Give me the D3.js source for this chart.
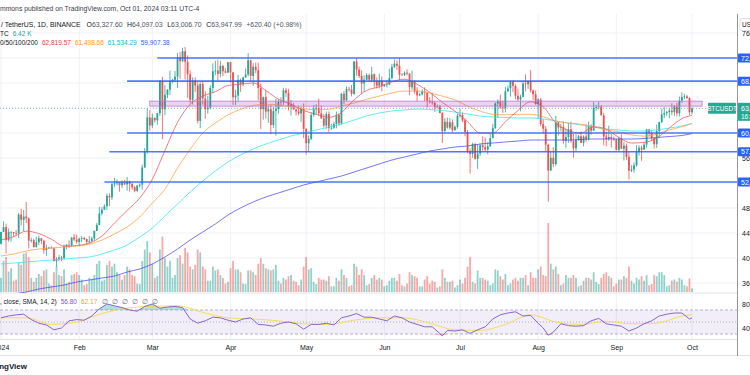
<!DOCTYPE html>
<html><head><meta charset="utf-8">
<script src="https://cdn.jsdelivr.net/npm/d3@7"></script>
<style>body{margin:0;background:#fff;overflow:hidden}svg{display:block;font-family:"Liberation Sans",Arial,sans-serif}</style>
</head><body><svg id="c" width="750" height="375"></svg>
<script>
// ---------- DATA (prices in thousand USDT, volume in thousand BTC) ----------
const jan = [[42.28,44.18,42.18,44.18],[44.18,45.88,44.15,44.95],[44.95,45.50,40.75,42.85],[42.85,44.73,42.62,44.15],[44.15,44.34,42.63,44.15],[44.15,44.20,43.40,43.97],[43.97,44.50,43.60,43.93],[43.93,47.22,43.18,46.95],[46.95,47.89,45.24,46.11],[46.11,47.70,44.30,46.63],[46.63,48.97,45.61,46.34],[46.34,46.50,41.50,42.78],[42.78,43.26,42.44,42.85],[42.85,43.08,41.72,41.73],[41.73,43.40,41.72,42.51],[42.51,43.58,42.05,43.15],[43.15,43.20,42.20,42.74],[42.74,42.93,40.68,41.26],[41.26,42.13,40.28,41.62],[41.62,41.82,41.43,41.66],[41.66,41.87,41.50,41.55],[41.55,41.65,39.43,39.51],[39.51,40.13,38.55,39.85],[39.85,40.50,39.49,40.08],[40.08,40.35,39.50,39.93],[39.93,42.20,39.82,41.82],[41.82,42.20,41.40,42.12],[42.12,42.84,41.62,42.04],[42.04,43.31,41.80,43.29],[43.29,43.84,42.68,42.95],[42.95,43.75,42.28,42.58]];
const feb = [[42.58,43.29,41.88,43.08],[43.08,43.49,42.57,43.20],[43.20,43.38,42.88,43.01],[43.01,43.12,42.22,42.58],[42.58,43.53,42.26,42.71],[42.71,43.40,42.57,43.10],[43.10,44.37,42.79,44.34],[44.34,45.61,44.33,45.29],[45.29,48.20,45.24,47.13],[47.13,48.17,46.80,47.75],[47.75,48.59,47.69,48.29],[48.29,50.33,47.71,49.96],[49.96,50.37,48.30,49.70],[49.70,52.04,49.27,51.80],[51.80,52.82,51.32,51.94],[51.94,52.57,51.57,52.14],[52.14,52.18,50.62,51.65],[51.65,52.40,51.20,52.14],[52.14,52.49,51.68,51.78],[51.78,52.98,50.76,52.26],[52.26,52.37,50.63,51.84],[51.84,52.05,50.93,51.30],[51.30,51.55,50.52,50.73],[50.73,51.70,50.58,51.57],[51.57,51.95,51.28,51.73],[51.73,54.94,50.90,54.48],[54.48,57.59,54.45,57.08],[57.08,63.91,56.69,62.50],[62.50,63.68,60.36,61.20]];
const mar = [[61.20,63.11,60.78,62.43],[62.43,62.48,61.66,62.03],[62.03,63.23,61.32,63.17],[63.17,68.50,62.75,68.33],[68.33,69.00,59.01,63.80],[63.80,67.64,62.85,66.11],[66.11,67.00,65.57,66.93],[66.93,69.99,66.10,68.30],[68.30,68.64,67.95,68.50],[68.50,69.92,68.13,69.02],[69.02,72.80,67.19,72.13],[72.13,72.97,68.62,71.48],[71.48,73.65,71.33,73.08],[73.08,73.78,68.56,71.40],[71.40,72.42,65.63,69.40],[69.40,70.04,64.78,65.32],[65.32,68.90,64.55,68.39],[68.39,68.92,66.60,67.61],[67.61,68.11,61.54,61.94],[61.94,68.10,60.78,67.84],[67.84,68.24,64.53,65.50],[65.50,66.65,62.26,63.80],[63.80,65.97,63.07,64.04],[64.04,67.62,63.79,67.21],[67.21,71.15,66.39,69.88],[69.88,71.56,69.28,69.99],[69.99,71.73,68.38,69.46],[69.46,71.55,68.90,70.74],[70.74,70.91,69.08,69.89],[69.89,70.35,69.56,69.65],[69.65,71.37,69.61,71.33]];
const apr = [[71.33,71.34,68.06,69.70],[69.70,69.71,64.49,65.71],[65.71,66.91,64.49,66.00],[66.00,69.29,65.06,68.51],[68.51,68.72,66.58,67.84],[67.84,69.00,67.45,68.90],[68.90,70.33,68.82,69.36],[69.36,72.80,69.04,71.63],[71.63,71.74,68.21,69.14],[69.14,71.17,67.52,70.59],[70.59,71.26,69.57,70.06],[70.06,71.23,65.25,67.20],[67.20,67.93,60.66,63.82],[63.82,65.84,62.13,65.74],[65.74,66.87,62.30,63.43],[63.43,64.36,61.63,63.81],[63.81,64.48,59.77,61.28],[61.28,64.12,60.78,63.51],[63.51,65.45,59.60,63.84],[63.84,65.41,63.09,64.99],[64.99,65.71,64.24,64.93],[64.93,67.23,64.50,66.84],[66.84,67.21,65.75,66.41],[66.41,67.08,63.59,64.28],[64.28,65.28,62.79,64.50],[64.50,64.81,63.75,63.77],[63.77,63.92,62.79,63.46],[63.46,64.37,62.81,63.12],[63.12,64.23,61.80,63.87],[63.87,64.73,59.19,60.67]];
const may = [[60.67,60.78,56.55,58.36],[58.36,59.60,56.94,59.06],[59.06,63.32,58.85,62.88],[62.88,64.49,62.60,63.89],[63.89,64.61,62.92,64.03],[64.03,65.49,62.70,63.16],[63.16,64.39,62.27,62.33],[62.33,62.99,60.89,61.19],[61.19,63.42,60.66,63.05],[63.05,63.47,60.19,60.79],[60.79,61.49,60.49,60.83],[60.83,61.82,60.63,61.45],[61.45,63.45,60.75,62.90],[62.90,63.12,61.15,61.55],[61.55,66.44,61.33,66.27],[66.27,66.70,64.60,65.23],[65.23,67.45,65.11,67.05],[67.05,67.40,66.60,66.94],[66.94,67.70,65.85,66.28],[66.28,71.52,66.06,71.45],[71.45,71.98,69.16,70.14],[70.14,70.63,68.80,69.12],[69.12,70.04,66.31,67.93],[67.93,69.22,66.60,68.53],[68.53,69.57,68.50,69.27],[69.27,69.52,68.19,68.52],[68.52,70.61,68.23,69.39],[69.39,69.56,67.28,68.30],[68.30,68.91,67.13,67.58],[67.58,69.50,67.12,68.36],[68.36,69.02,66.67,67.49]];
const jun = [[67.49,67.86,67.39,67.71],[67.71,68.44,67.32,67.75],[67.75,70.29,67.61,68.80],[68.80,71.06,68.56,70.57],[70.57,71.76,70.39,71.08],[71.08,71.63,70.12,70.76],[70.76,72.00,68.50,69.34],[69.34,69.56,69.21,69.31],[69.31,69.85,69.13,69.65],[69.65,70.20,69.21,69.51],[69.51,69.56,66.05,67.32],[67.32,69.99,66.90,68.24],[68.24,68.45,66.30,66.76],[66.76,67.32,65.08,66.01],[66.01,66.45,65.88,66.19],[66.19,66.98,66.02,66.64],[66.64,67.30,65.13,66.49],[66.49,66.49,64.06,65.14],[65.14,65.73,64.69,64.96],[64.96,66.48,64.53,64.83],[64.83,65.07,63.38,64.10],[64.10,64.53,63.94,64.25],[64.25,64.49,63.21,63.18],[63.18,63.37,58.40,60.28],[60.28,62.37,60.24,61.80],[61.80,62.49,60.71,60.86],[60.86,62.39,60.57,61.71],[61.71,62.18,60.06,60.43],[60.43,61.22,60.42,60.99],[60.99,63.06,60.69,62.77]];
const jul = [[62.77,63.86,62.46,62.90],[62.90,63.30,61.75,62.03],[62.03,62.32,59.48,60.17],[60.17,60.50,56.77,57.03],[57.03,57.50,53.49,56.64],[56.64,58.47,56.02,58.23],[58.23,58.44,55.72,55.86],[55.86,58.24,54.26,56.71],[56.71,58.30,56.30,58.05],[58.05,59.47,57.16,57.73],[57.73,59.30,56.96,57.34],[57.34,58.53,56.59,57.89],[57.89,59.85,57.76,59.20],[59.20,61.42,59.13,60.80],[60.80,64.90,60.63,64.72],[64.72,65.39,62.43,65.04],[65.04,66.13,63.87,64.09],[64.09,65.12,63.24,63.99],[63.99,67.39,63.30,66.66],[66.66,67.60,66.56,67.14],[67.14,68.38,65.84,68.17],[68.17,68.48,66.56,67.53],[67.53,67.82,65.39,65.94],[65.94,67.10,65.12,65.37],[65.37,66.13,63.46,65.78],[65.78,68.23,65.73,67.91],[67.91,69.40,66.69,67.81],[67.81,68.32,67.07,68.26],[68.26,70.08,66.50,66.82],[66.82,66.99,65.30,66.20],[66.20,66.83,64.53,64.62]];
const aug = [[64.62,65.59,62.25,65.36],[65.36,65.60,61.10,61.42],[61.42,62.20,59.85,60.68],[60.68,61.12,57.12,58.12],[58.12,58.29,49.00,53.99],[53.99,57.06,53.97,56.03],[56.03,57.72,54.56,55.03],[55.03,62.75,54.73,61.71],[61.71,61.75,59.59,60.88],[60.88,61.47,60.26,60.95],[60.95,61.86,58.29,58.72],[58.72,60.72,57.64,59.35],[59.35,61.58,58.42,60.61],[60.61,61.80,58.43,58.74],[58.74,59.85,56.08,57.56],[57.56,59.82,57.10,58.87],[58.87,59.69,58.79,59.49],[59.49,60.26,58.41,58.43],[58.43,59.62,57.86,59.44],[59.44,61.40,58.58,59.01],[59.01,61.82,58.79,61.16],[61.16,61.40,59.72,60.38],[60.38,64.96,60.35,64.04],[64.04,64.52,63.57,64.16],[64.16,65.00,63.78,64.22],[64.22,64.48,62.80,62.83],[62.83,63.23,58.03,59.42],[59.42,60.23,57.86,59.03],[59.03,61.17,58.75,59.36],[59.36,59.82,57.73,59.12],[59.12,59.43,58.74,58.97]];
const sep = [[58.97,59.06,57.20,57.30],[57.30,59.40,57.12,59.13],[59.13,59.81,57.42,57.49],[57.49,58.52,55.61,57.97],[57.97,58.31,55.67,56.18],[56.18,56.99,52.55,53.96],[53.96,54.85,53.74,54.16],[54.16,55.30,53.65,54.84],[54.84,58.04,54.59,57.02],[57.02,58.04,56.38,57.65],[57.65,57.99,55.55,57.34],[57.34,58.59,57.32,58.13],[58.13,60.67,57.63,60.57],[60.57,60.65,59.43,60.01],[60.01,60.38,58.70,59.18],[59.18,59.21,57.49,58.21],[58.21,61.34,57.61,60.31],[60.31,61.79,59.17,61.76],[61.76,63.87,61.57,62.95],[62.95,64.13,62.35,63.20],[63.20,63.56,62.76,63.35],[63.35,64.00,62.36,63.58],[63.58,64.75,62.88,63.34],[63.34,64.48,62.70,64.26],[64.26,64.82,62.67,63.15],[63.15,65.84,62.67,65.17],[65.17,66.50,64.84,65.77],[65.77,66.26,65.42,65.86],[65.86,66.08,65.44,65.60],[65.60,65.70,62.86,63.33]];
const oct = [[63.33,64.10,63.01,63.95]];

const volJan = [25,55,62,36,42,20,22,52,48,68,70,62,25,18,25,32,28,38,40,15,12,35,45,30,28,40,15,18,30,32,35];
const volFeb = [30,22,12,14,25,22,30,50,55,20,22,48,55,45,50,35,30,22,30,45,40,30,28,15,14,55,75,90,70];
const volMar = [50,25,28,75,98,60,45,55,25,30,60,65,50,78,70,45,40,48,75,70,45,40,20,20,45,38,40,30,25,15,18];
const volApr = [42,55,40,40,35,15,14,38,38,35,30,50,60,50,42,40,38,40,48,20,15,25,22,28,30,20,18,12,22,45];
const volMay = [62,40,42,18,14,25,22,22,20,28,10,10,25,20,40,30,25,10,12,50,45,30,40,30,12,14,25,30,22,25,22];
const volJun = [10,12,20,25,25,20,32,12,10,15,35,30,28,25,10,10,22,28,15,20,18,8,10,40,25,18,18,20,8,12];
const volJul = [22,15,25,45,62,18,15,38,25,25,22,20,12,15,40,38,28,22,32,12,15,22,25,20,25,25,30,12,35,25,25];
const volAug = [40,45,30,28,122,50,40,45,32,12,15,30,25,25,30,25,10,12,20,25,25,22,35,18,14,25,32,35,28,25,10];
const volSep = [15,22,22,28,25,45,20,15,25,22,28,20,30,12,14,30,28,35,35,30,10,12,20,22,18,25,22,12,10,24];
const volOct = [6.42];

// moving averages (EMA 20/50/100/200) sampled at these day numbers (0 = 1 Jan 2024)
const maDays = [0,5,10,15,20,25,30,35,40,45,50,55,60,65,70,75,80,85,90,95,100,105,110,115,120,125,130,135,140,145,150,155,160,165,170,175,180,185,190,195,200,205,210,215,220,225,230,235,240,245,250,255,260,265,270,274];
const ema20 = [42.9,43.4,44.3,43.9,43.0,41.9,42.0,42.4,43.5,45.6,47.6,49.6,52.6,57.2,61.7,64.6,65.9,66.6,67.6,67.8,68.0,66.8,65.4,64.6,63.6,63.0,62.5,63.3,65.3,66.8,67.4,68.2,68.6,67.8,66.5,64.9,63.5,61.8,60.0,60.0,61.8,63.6,65.0,64.2,61.6,60.4,60.0,61.0,60.6,59.3,58.4,58.5,59.2,60.8,62.3,62.82];
const ema50 = [40.32,40.64,41.12,41.44,41.6,41.76,41.92,42.2,42.88,43.84,44.96,46.56,48.8,51.0,54.4,57.4,60.0,61.6,62.9,63.8,64.4,64.6,64.5,64.2,63.9,63.7,63.8,64.3,64.8,65.4,65.9,66.4,66.7,66.7,66.4,65.9,65.3,64.3,63.5,63.0,62.9,63.0,63.0,62.6,61.9,61.6,61.4,61.0,60.5,60.2,59.7,59.5,59.8,60.5,61.0,61.5];
const ema100 = [39.04,39.2,39.36,39.52,39.68,39.84,40.0,40.16,40.64,41.28,42.08,43.36,44.8,46.72,48.64,50.56,52.32,53.92,55.36,56.48,57.44,58.24,58.88,59.52,60.0,60.48,60.96,61.44,62.08,62.72,63.2,63.52,63.68,63.84,63.76,63.6,63.36,63.04,62.72,62.56,62.48,62.4,62.4,62.24,61.92,61.6,61.28,60.96,60.64,60.48,60.32,60.32,60.48,60.8,61.12,61.534];
const ema200 = [33.76,34.24,34.56,35.04,35.36,35.68,36.16,36.48,36.8,37.12,37.76,38.24,39.04,40.16,41.44,42.88,44.16,45.44,46.88,48.0,48.96,49.76,50.4,51.04,51.68,52.16,52.64,53.12,53.76,54.4,55.04,55.68,56.16,56.64,57.12,57.44,57.76,57.92,58.24,58.4,58.56,58.72,58.88,58.88,58.88,58.88,58.96,59.04,59.04,59.04,59.04,59.12,59.28,59.44,59.6,59.907];

// RSI 14 and its SMA
const rsiDays = [0,3,6,9,12,15,18,21,24,27,30,33,36,39,42,45,48,51,54,57,60,63,66,69,72,75,78,81,84,87,90,93,96,99,102,105,108,111,114,117,120,123,126,129,132,135,138,141,144,147,150,153,156,159,162,165,168,171,175,177,180,183,186,189,192,195,198,201,204,207,210,213,215,217,219,222,225,228,231,234,237,240,243,246,249,252,255,258,261,264,267,270,273,274];
const rsiValues = [57,60,62,63,54,48,45,37,40,52,54,53,60,72,80,77,74,70,68,76,80,73,75,76,74,55,48,52,58,57,53,50,55,57,46,45,43,48,50,47,38,46,46,48,45,57,60,64,58,58,55,52,60,57,50,46,42,42,27,36,35,37,31,37,42,55,62,65,67,60,61,48,40,28,33,47,44,43,44,52,56,47,45,43,35,40,47,52,60,63,65,65,55,56.8];
const rsiMaDays = [0,10,20,30,40,50,60,70,80,90,100,110,120,130,140,150,160,170,180,190,200,210,220,230,240,250,260,270,274];
const rsiMaValues = [57,57,46,50,64,73,76,77,66,57,55,52,47,46,53,57,57,48,37,36,46,62,50,46,51,47,48,60,62.17];

// drawn horizontal levels and zone
const levelValues = [72.0, 68.3, 60.0, 57.0, 52.15];
const levelStarts = ["2024-03-03","2024-02-20","2024-02-20","2024-02-13","2024-02-11"];
const zoneRange = [64.3, 65.1];
const zoneDates = ["2024-02-29","2024-10-05"];
const priceTicks = [36,40,44,48,52,56,60,64,68,72,76];
const rsiTicks = [40,80];
const lastPrice = 63.94799;

// legend texts
const headerLine = "mmons published on TradingView.com, Oct 01, 2024 03:11 UTC-4";
const symbolText = "/ TetherUS, 1D, BINANCE";
const ohlcKeys = ["O","H","L","C"];
const ohlcVals = ["63,327.60","64,097.03","63,006.70","63,947.99"];
const changeText = "+620.40 (+0.98%)";
const maValsText = ["62,819.57","61,498.66","61,534.29","59,907.38"];
const maColors = ["#f23645","#ff9800","#00bcd4","#2962ff"];

// ---------- CHART ----------
const svg = d3.select("#c");
const parse = d3.utcParse("%Y-%m-%d");
const start = parse("2024-01-01");
const candles = [].concat(jan,feb,mar,apr,may,jun,jul,aug,sep,oct);
const volumes = [].concat(volJan,volFeb,volMar,volApr,volMay,volJun,volJul,volAug,volSep,volOct);
const dates = candles.map((c,i)=>d3.utcDay.offset(start,i));
const dayDate = d=>d3.utcDay.offset(start,d);

const x = d3.scaleUtc().domain([start, parse("2024-10-01")]).range([1, 692]);
const y = d3.scaleLinear().domain([40,76]).range([258,33]);
const yv = d3.scaleLinear().domain([0,122]).range([292,223]);
const yr = d3.scaleLinear().domain([30,70]).range([334,310]);

const UP="#26a69a", DN="#ef5350";
const axisX = 737;

const defs = svg.append("defs");
defs.append("clipPath").attr("id","pp").append("rect").attr("x",0).attr("y",14).attr("width",axisX).attr("height",279);
defs.append("clipPath").attr("id","rp").append("rect").attr("x",0).attr("y",293).attr("width",axisX).attr("height",46);

// grids
const months = d3.utcMonths(start, parse("2024-10-02"));
svg.append("g").selectAll("line").data(months).join("line")
  .attr("x1",d=>x(d)).attr("x2",d=>x(d)).attr("y1",14).attr("y2",339)
  .attr("stroke","#eef1f6").attr("stroke-width",1);
svg.append("g").selectAll("line").data(priceTicks).join("line")
  .attr("x1",0).attr("x2",axisX).attr("y1",d=>y(d)).attr("y2",d=>y(d))
  .attr("stroke","#eef1f6").attr("stroke-width",1);

// pane separators and axis border
svg.append("line").attr("x1",0).attr("x2",axisX).attr("y1",293).attr("y2",293).attr("stroke","#e0e3eb");
svg.append("line").attr("x1",0).attr("x2",axisX).attr("y1",339.5).attr("y2",339.5).attr("stroke","#e0e3eb");
svg.append("line").attr("x1",0).attr("x2",750).attr("y1",355.5).attr("y2",355.5).attr("stroke","#e0e3eb");
svg.append("line").attr("x1",axisX+0.5).attr("x2",axisX+0.5).attr("y1",14).attr("y2",356).attr("stroke","#9598a1");

const pp = svg.append("g").attr("clip-path","url(#pp)");

// volume
pp.append("g").selectAll("rect").data(volumes).join("rect")
  .attr("x",(d,i)=>x(dates[i])-0.9).attr("width",1.8)
  .attr("y",d=>yv(d)).attr("height",d=>292-yv(d))
  .attr("fill",(d,i)=>candles[i][3]>=candles[i][0]?"rgba(38,166,154,0.5)":"rgba(239,83,80,0.5)");

// current price dotted line
pp.append("line").attr("x1",0).attr("x2",axisX).attr("y1",y(lastPrice)).attr("y2",y(lastPrice))
  .attr("stroke","#8fa3a0").attr("stroke-width",0.8).attr("stroke-dasharray","1,2");

// candles
const cg = pp.append("g");
cg.selectAll("line").data(candles).join("line")
  .attr("x1",(d,i)=>x(dates[i])).attr("x2",(d,i)=>x(dates[i]))
  .attr("y1",d=>y(d[1])).attr("y2",d=>y(d[2]))
  .attr("stroke",d=>d[3]>=d[0]?UP:DN).attr("stroke-width",0.8);
cg.selectAll("rect").data(candles).join("rect")
  .attr("x",(d,i)=>x(dates[i])-0.9).attr("width",1.8)
  .attr("y",d=>y(Math.max(d[0],d[3])))
  .attr("height",d=>Math.max(0.7,Math.abs(y(d[0])-y(d[3]))))
  .attr("fill",d=>d[3]>=d[0]?UP:DN);

// moving averages
const maLine = d3.line().x((d,i)=>x(dayDate(maDays[i]))).y(d=>y(d)).curve(d3.curveMonotoneX);
[[ema200,"#4b4bf0"],[ema100,"#2ee6f2"],[ema50,"#ff9f40"],[ema20,"#f2545b"]].forEach(([arr,col])=>{
  pp.append("path").attr("d",maLine(arr)).attr("fill","none").attr("stroke",col).attr("stroke-width",0.9).attr("stroke-opacity",0.85);
});

// zone
pp.append("rect").attr("x",x(parse(zoneDates[0]))).attr("width",x(parse(zoneDates[1]))-x(parse(zoneDates[0])))
  .attr("y",y(zoneRange[1])).attr("height",y(zoneRange[0])-y(zoneRange[1]))
  .attr("fill","rgba(156,39,176,0.2)").attr("stroke","#b57bd0").attr("stroke-width",0.8);

// levels
pp.append("g").selectAll("line").data(levelValues).join("line")
  .attr("x1",(d,i)=>x(parse(levelStarts[i]))).attr("x2",axisX)
  .attr("y1",d=>y(d)).attr("y2",d=>y(d))
  .attr("stroke","#2962ff").attr("stroke-width",1.6).attr("stroke-opacity",0.85);

// right price axis
const fmt = d3.format(",.2f");
const ax = svg.append("g").attr("transform",`translate(${axisX+1},0)`)
  .call(d3.axisRight(y).tickValues(priceTicks.filter(t=>![60,64,68,72,52].includes(t))).tickSize(0).tickPadding(4).tickFormat(d=>fmt(d*1000)));
ax.select(".domain").remove();
ax.selectAll("text").attr("fill","#131722").attr("font-size",7).attr("font-family","Liberation Sans, Arial");

// level labels
const lab = svg.append("g");
levelValues.forEach(v=>{
  lab.append("rect").attr("x",axisX+1).attr("y",y(v)-4.5).attr("width",14).attr("height",9).attr("fill","#2962ff").attr("rx",1);
  lab.append("text").attr("x",axisX+4).attr("y",y(v)+2.5).attr("fill","#fff").attr("font-size",7).text(fmt(v*1000));
});
// current price labels
lab.append("rect").attr("x",708).attr("y",y(lastPrice)-5.5).attr("width",28).attr("height",11).attr("fill","#22ab94").attr("rx",1);
lab.append("text").attr("x",722).attr("y",y(lastPrice)+2.3).attr("text-anchor","middle").attr("fill","#fff").attr("font-size",6.3).text("BTCUSDT");
lab.append("rect").attr("x",axisX+1).attr("y",y(lastPrice)-5.5).attr("width",14).attr("height",18).attr("fill","#22ab94");
lab.append("text").attr("x",axisX+4).attr("y",y(lastPrice)+2.5).attr("fill","#fff").attr("font-size",7).text(fmt(lastPrice*1000));
lab.append("text").attr("x",axisX+4).attr("y",y(lastPrice)+10.5).attr("fill","#fff").attr("font-size",6.5).text("16:48:47");
// currency box
lab.append("rect").attr("x",axisX+3).attr("y",18.5).attr("width",14).attr("height",12).attr("fill","#fff").attr("stroke","#d1d4dc").attr("stroke-width",0.7).attr("rx",2);
lab.append("text").attr("x",axisX+5).attr("y",27).attr("fill","#131722").attr("font-size",6.5).text("USDT");

// ---------- RSI pane ----------
const rp = svg.append("g").attr("clip-path","url(#rp)");
rp.append("rect").attr("x",0).attr("width",axisX).attr("y",yr(70)).attr("height",yr(30)-yr(70)).attr("fill","rgba(126,87,194,0.1)");
[[70,"3,2"],[50,"1,2"],[30,"3,2"]].forEach(([v,da])=>{
  rp.append("line").attr("x1",0).attr("x2",axisX).attr("y1",yr(v)).attr("y2",yr(v)).attr("stroke","#9598a1").attr("stroke-width",0.7).attr("stroke-dasharray",da);
});
const rx = (d,i)=>x(dayDate(rsiDays[i]));
rp.append("path").attr("d",d3.area().x(rx).y0(yr(70)).y1(d=>yr(Math.max(d,70)))(rsiValues)).attr("fill","rgba(38,166,154,0.35)");
rp.append("path").attr("d",d3.area().x(rx).y0(yr(30)).y1(d=>yr(Math.min(d,30)))(rsiValues)).attr("fill","rgba(239,83,80,0.35)");
rp.append("path").attr("d",d3.line().x((d,i)=>x(dayDate(rsiMaDays[i]))).y(d=>yr(d)).curve(d3.curveMonotoneX)(rsiMaValues))
  .attr("fill","none").attr("stroke","#f5d94a").attr("stroke-width",0.9);
rp.append("path").attr("d",d3.line().x(rx).y(d=>yr(d))(rsiValues)).attr("fill","none").attr("stroke","#7e57c2").attr("stroke-width",0.9);
const rax = svg.append("g").attr("transform",`translate(${axisX+1},0)`)
  .call(d3.axisRight(yr).tickValues(rsiTicks).tickSize(0).tickPadding(4).tickFormat(d=>fmt(d)));
rax.select(".domain").remove();
rax.selectAll("text").attr("fill","#131722").attr("font-size",7);

// ---------- time axis ----------
const tx = svg.append("g").attr("transform","translate(0,342)")
  .call(d3.axisBottom(x).tickValues(months).tickSize(0).tickPadding(3)
    .tickFormat(d=>d.getUTCMonth()===0?"2024":d3.utcFormat("%b")(d)));
tx.select(".domain").remove();
tx.selectAll("text").attr("fill","#131722").attr("font-size",7);

// ---------- header / legends ----------
const FS = 6.5;
svg.append("text").attr("x",0).attr("y",11).attr("fill","#3a3e4a").attr("font-size",6.8).text(headerLine);
const l2 = svg.append("text").attr("x",1).attr("y",27).attr("font-size",6.9).attr("fill","#131722");
l2.append("tspan").text(symbolText);
ohlcKeys.forEach((k,i)=>{
  l2.append("tspan").attr("dx",i===0?6:4.5).text(k);
  l2.append("tspan").attr("fill","#4f5560").text(ohlcVals[i]);
});
l2.append("tspan").attr("dx",4.5).attr("fill","#4f5560").text(changeText);
const l3 = svg.append("text").attr("x",0).attr("y",36).attr("font-size",FS).attr("fill","#131722");
l3.append("tspan").text("TC");
l3.append("tspan").attr("dx",4).attr("fill","#26a69a").text("6.42 K");
const l4 = svg.append("text").attr("x",0).attr("y",45).attr("font-size",FS).attr("fill","#131722");
l4.append("tspan").text("0/50/100/200");
maValsText.forEach((v,i)=>l4.append("tspan").attr("dx",4).attr("fill",maColors[i]).text(v));
const l5 = svg.append("text").attr("x",0).attr("y",303.5).attr("font-size",FS).attr("fill","#131722");
l5.append("tspan").text(", close, SMA, 14, 2)");
l5.append("tspan").attr("dx",4).attr("fill","#7e57c2").text("56.80");
l5.append("tspan").attr("dx",4).attr("fill","#d4b400").text("62.17");
for(let k=0;k<6;k++) l5.append("tspan").attr("dx",k===0?5:4).attr("fill","#6a6d78").text("∅");
svg.append("text").attr("x",27).attr("y",369).attr("text-anchor","end").attr("font-weight","bold").attr("font-size",8).attr("fill","#131722").text("TradingView");
</script></body></html>
